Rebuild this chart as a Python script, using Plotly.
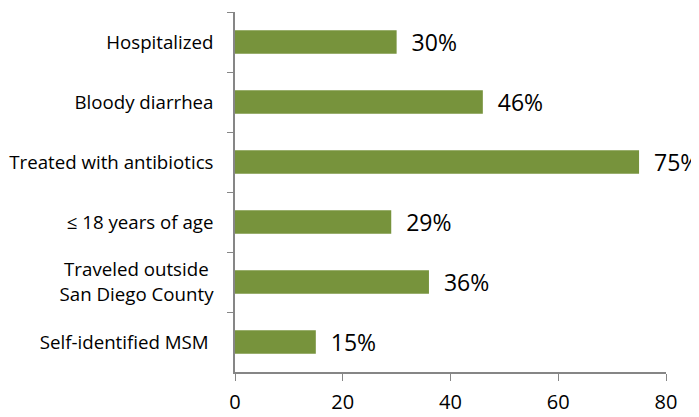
import plotly.graph_objects as go

categories = ["Hospitalized", "Bloody diarrhea", "Treated with antibiotics",
              "≤ 18 years of age", "Traveled outside <br>San Diego County", "Self-identified MSM "]
values = [30, 46, 75, 29, 36, 15]
labels = ["  30%", "  46%", "  75%", "  29%", "  36%", "  15%"]
xticks = [0, 20, 40, 60, 80]

fig = go.Figure(go.Bar(
    x=values, y=categories, orientation="h",
    marker=dict(color="#77933C", line=dict(width=0)),
    width=0.39,
    text=labels, textposition="outside", cliponaxis=False, constraintext="none",
    textfont=dict(family="Open Sans", size=23, color="#000000"),
))

# page body has an 8px default margin, so the figure is sized/offset accordingly
fig.update_layout(
    width=691, height=409,
    margin=dict(l=227, r=33, t=4, b=45),
    paper_bgcolor="white", plot_bgcolor="white",
    showlegend=False,
    font=dict(family="Open Sans", color="#000000"),
    xaxis=dict(range=[0, 80], tickvals=xticks, ticks="outside", ticklen=7,
               tickcolor="#868686", showline=True, linecolor="#868686", linewidth=1.5,
               showgrid=False, zeroline=False, tickfont=dict(size=20), automargin=False,
               ticklabelstandoff=4),
    yaxis=dict(categoryorder="array", categoryarray=categories, autorange="reversed",
               ticks="outside", ticklen=6, tickson="boundaries", tickcolor="#868686",
               showline=True, linecolor="#868686", linewidth=1.5, showgrid=False,
               ticklabelstandoff=16, tickfont=dict(size=18.7), automargin=False),
)
fig.write_html("out.html")
